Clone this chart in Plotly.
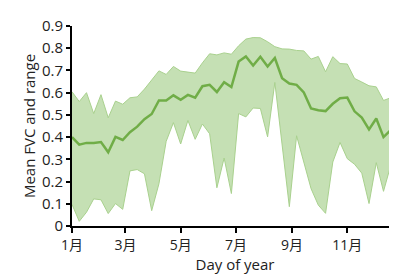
import plotly.graph_objects as go

day = [1 + 8 * i for i in range(46)]

mean_fvc = [0.400, 0.366, 0.374, 0.374, 0.378, 0.332, 0.401, 0.387, 0.422, 0.447,
            0.481, 0.504, 0.565, 0.565, 0.588, 0.568, 0.590, 0.577, 0.629, 0.635,
            0.603, 0.647, 0.625, 0.740, 0.763, 0.722, 0.762, 0.718, 0.756, 0.665,
            0.641, 0.635, 0.601, 0.529, 0.521, 0.517, 0.550, 0.575, 0.578, 0.516,
            0.488, 0.435, 0.484, 0.400, 0.432, 0.381]

upper_fvc = [0.604, 0.560, 0.600, 0.506, 0.591, 0.487, 0.562, 0.548, 0.577, 0.581,
             0.616, 0.657, 0.698, 0.682, 0.718, 0.697, 0.693, 0.688, 0.734, 0.775,
             0.770, 0.779, 0.773, 0.811, 0.841, 0.848, 0.847, 0.829, 0.807, 0.797,
             0.796, 0.790, 0.788, 0.751, 0.763, 0.694, 0.762, 0.731, 0.729, 0.664,
             0.648, 0.631, 0.626, 0.565, 0.577, 0.562]

lower_fvc = [0.097, 0.021, 0.062, 0.122, 0.118, 0.056, 0.101, 0.075, 0.248, 0.254,
             0.235, 0.069, 0.190, 0.381, 0.465, 0.369, 0.475, 0.390, 0.459, 0.415,
             0.172, 0.306, 0.146, 0.506, 0.491, 0.531, 0.529, 0.401, 0.646, 0.360,
             0.087, 0.406, 0.285, 0.168, 0.094, 0.057, 0.288, 0.376, 0.303, 0.278,
             0.238, 0.101, 0.285, 0.156, 0.273, 0.135]

tick_days = [1, 60, 121, 182, 244, 305]
tick_labels = ["1月", "3月", "5月", "7月", "9月", "11月"]

font_family = "Open Sans, Liberation Sans, Noto Sans CJK SC"

fig = go.Figure()
fig.add_trace(go.Scatter(x=day, y=lower_fvc, mode="lines",
                         line=dict(color="#A9D18E", width=1), showlegend=False))
fig.add_trace(go.Scatter(x=day, y=upper_fvc, mode="lines", fill="tonexty",
                         fillcolor="#C5E0B4",
                         line=dict(color="#A9D18E", width=1), showlegend=False))
fig.add_trace(go.Scatter(x=day, y=mean_fvc, mode="lines",
                         line=dict(color="#70AD47", width=2.5), showlegend=False))

fig.update_layout(
    width=397, height=276,
    margin=dict(l=64, r=7, t=14, b=58),
    paper_bgcolor="white", plot_bgcolor="white",
    font=dict(family=font_family, size=14, color="#222"),
    xaxis=dict(range=[1, 361], tickvals=tick_days, ticktext=tick_labels,
               showgrid=False, zeroline=False, showline=True, linecolor="black",
               linewidth=1.8, ticks="outside", ticklen=5, tickcolor="black",
               tickwidth=1.5, tickfont=dict(size=14),
               title=dict(text="Day of year", font=dict(size=15), standoff=4)),
    yaxis=dict(range=[0, 0.9], tickvals=[0, 0.1, 0.2, 0.3, 0.4, 0.5, 0.6, 0.7, 0.8, 0.9],
               showgrid=False, zeroline=False, showline=True, linecolor="black",
               linewidth=1.8, ticks="outside", ticklen=4, tickcolor="black",
               tickwidth=1.5, tickfont=dict(size=15),
               title=dict(text="Mean FVC and range", font=dict(size=15), standoff=3)),
)

fig.write_html("out.html")
